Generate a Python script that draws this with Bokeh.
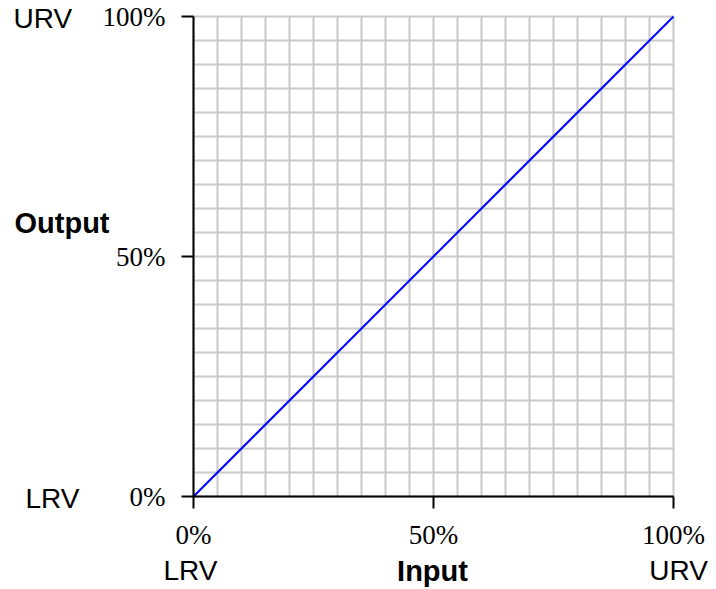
from bokeh.plotting import figure
from bokeh.models import Range1d, FixedTicker, Label
from bokeh.embed import file_html
from bokeh.resources import INLINE

# data
input_pct = [0, 100]
output_pct = [0, 100]
tick_values = [0, 50, 100]
tick_labels = ["0%", "50%", "100%"]
grid_values = [0, 5, 10, 15, 20, 25, 30, 35, 40, 45, 50,
               55, 60, 65, 70, 75, 80, 85, 90, 95, 100]
range_names = ["LRV", "URV"]
x_title = "Input"
y_title = "Output"

# layout (pixels)
W, H = 716, 589
LEFT, TOP, SIZE = 193, 16, 480
ppu = SIZE / 100.0  # pixels per percent

x_range = Range1d(-LEFT / ppu, (W - LEFT) / ppu)
y_range = Range1d(-(H - TOP - SIZE) / ppu, 100 + TOP / ppu)

p = figure(width=W, height=H, x_range=x_range, y_range=y_range,
           output_backend="svg", toolbar_location=None,
           min_border=0)
p.outline_line_color = None
p.background_fill_color = "white"
p.border_fill_color = "white"
p.xgrid.visible = False
p.ygrid.visible = False

# grid confined to the 0..100 square
n = len(grid_values)
p.segment(x0=grid_values, y0=[0] * n, x1=grid_values, y1=[100] * n,
          line_color="#c8c8c8", line_width=2, level="underlay")
p.segment(x0=[0] * n, y0=grid_values, x1=[100] * n, y1=grid_values,
          line_color="#c8c8c8", line_width=2, level="underlay")

overrides = {v: s for v, s in zip(tick_values, tick_labels)}
for ax in (p.xaxis, p.yaxis):
    ax.fixed_location = 0
    ax.bounds = (0, 100)
    ax.ticker = FixedTicker(ticks=tick_values)
    ax.major_label_overrides = overrides
    ax.axis_line_color = "black"
    ax.axis_line_width = 2
    ax.major_tick_line_color = "black"
    ax.major_tick_line_width = 2
    ax.major_tick_in = 0
    ax.major_tick_out = 12
    ax.minor_tick_line_color = None
    ax.major_label_text_font = "Liberation Serif"
    ax.major_label_text_font_size = "27px"
    ax.major_label_text_color = "black"
p.yaxis.major_label_standoff = 16
p.xaxis.major_label_standoff = 11

p.line(input_pct, output_pct, line_color="#0000ff", line_width=2)

sans = "Liberation Sans"


def add_label(x, y, dx, dy, text, align, bold=False):
    p.add_layout(Label(x=x, y=y, x_offset=dx, y_offset=dy, text=text,
                       text_font=sans,
                       text_font_size="29px" if bold else "28px",
                       text_font_style="bold" if bold else "normal",
                       text_align=align, text_baseline="alphabetic",
                       text_color="black"))


# y-side
add_label(0, tick_values[2], -180, -2, range_names[1], "left")
add_label(0, tick_values[0], -168, -2, range_names[0], "left")
add_label(0, tick_values[1], -179, 34, y_title, "left", bold=True)
# x-side
add_label(tick_values[0], 0, -3, -74, range_names[0], "center")
add_label(tick_values[1], 0, -1, -74, x_title, "center", bold=True)
add_label(tick_values[2], 0, 5, -74, range_names[1], "center")

open("out.html", "w").write(file_html(p, INLINE))
